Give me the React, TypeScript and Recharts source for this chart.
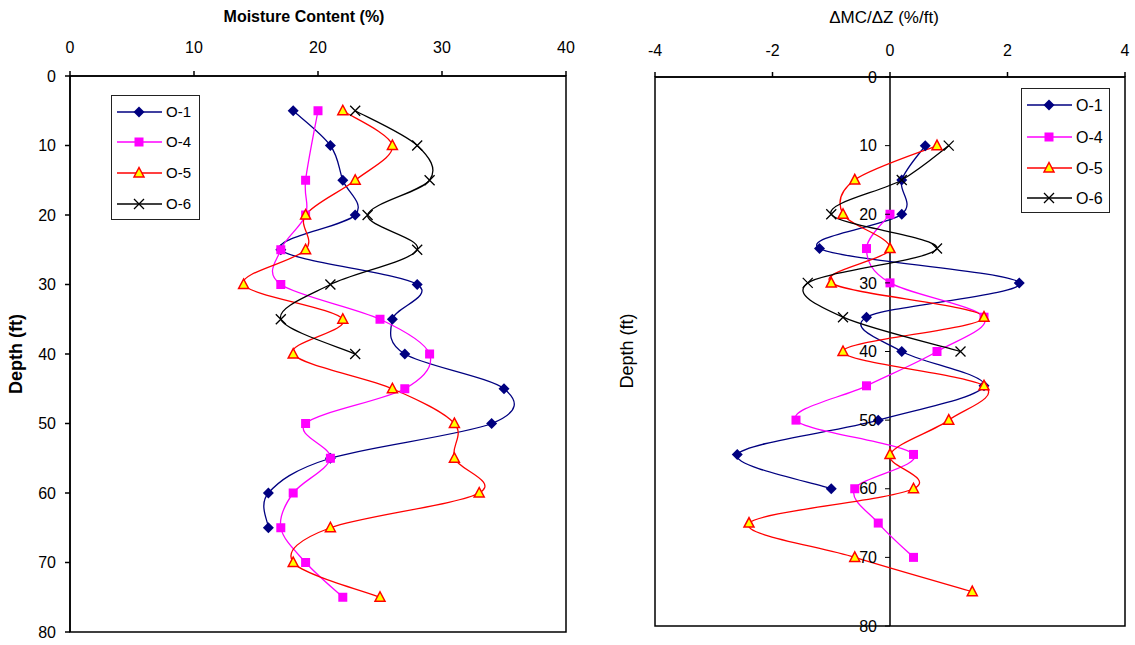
import React from "react"
import { Legend, Line, LineChart, ReferenceArea, ReferenceLine, XAxis, YAxis } from "recharts"

// moisture content (%) by depth (ft)
const DEPTHS = [5, 10, 15, 20, 25, 30, 35, 40, 45, 50, 55, 60, 65, 70, 75]
const MC_O1 = [18, 21, 22, 23, 17, 28, 26, 27, 35, 34, 21, 16, 16, null, null]
const MC_O4 = [20, null, 19, 19, 17, 17, 25, 29, 27, 19, 21, 18, 17, 19, 22]
const MC_O5 = [22, 26, 23, 19, 19, 14, 22, 18, 26, 31, 31, 33, 21, 18, 25]
const MC_O6 = [23, 28, 29, 24, 28, 21, 17, 23, null, null, null, null, null, null, null]

// gradient dMC/dZ (%/ft)
const GRAD_DEPTHS = [10, 15, 20, 25, 30, 35, 40, 45, 50, 55, 60, 65, 70, 75]
const GRAD_O1 = [0.6, 0.2, 0.2, -1.2, 2.2, -0.4, 0.2, 1.6, -0.2, -2.6, -1.0, null, null, null]
const GRAD_O4 = [null, null, 0, -0.4, 0, 1.6, 0.8, -0.4, -1.6, 0.4, -0.6, -0.2, 0.4, null]
const GRAD_O5 = [0.8, -0.6, -0.8, 0, -1.0, 1.6, -0.8, 1.6, 1.0, 0, 0.4, -2.4, -0.6, 1.4]
const GRAD_O6 = [1.0, 0.2, -1.0, 0.8, -1.4, -0.8, 1.2, null, null, null, null, null, null, null]

const MC_TICKS = [0, 10, 20, 30, 40]
const GRAD_TICKS = [-4, -2, 0, 2, 4]
const DEPTH_TICKS = [0, 10, 20, 30, 40, 50, 60, 70, 80]

type Marker = "diamond" | "square" | "triangle" | "cross"

const SERIES: { key: string; color: string; marker: Marker }[] = [
  { key: "O-1", color: "#000080", marker: "diamond" },
  { key: "O-4", color: "#FF00FF", marker: "square" },
  { key: "O-5", color: "#FF0000", marker: "triangle" },
  { key: "O-6", color: "#000000", marker: "cross" },
]

const mcData = DEPTHS.map((depth, i) => ({
  depth,
  "O-1": MC_O1[i],
  "O-4": MC_O4[i],
  "O-5": MC_O5[i],
  "O-6": MC_O6[i],
}))

const gradData = GRAD_DEPTHS.map((depth, i) => ({
  depth,
  "O-1": GRAD_O1[i],
  "O-4": GRAD_O4[i],
  "O-5": GRAD_O5[i],
  "O-6": GRAD_O6[i],
}))

// excel-like smoothed line (catmull-rom style bezier)
const smoothCurve = (context: any) => {
  let pts: number[][] = []
  return {
    areaStart() {},
    areaEnd() {},
    lineStart() {
      pts = []
    },
    point(x: number, y: number) {
      pts.push([+x, +y])
    },
    lineEnd() {
      const n = pts.length
      if (!n) return
      context.moveTo(pts[0][0], pts[0][1])
      for (let i = 0; i < n - 1; i++) {
        const p0 = pts[Math.max(i - 1, 0)]
        const p1 = pts[i]
        const p2 = pts[i + 1]
        const p3 = pts[Math.min(i + 2, n - 1)]
        context.bezierCurveTo(
          p1[0] + (p2[0] - p0[0]) / 6,
          p1[1] + (p2[1] - p0[1]) / 6,
          p2[0] - (p3[0] - p1[0]) / 6,
          p2[1] - (p3[1] - p1[1]) / 6,
          p2[0],
          p2[1]
        )
      }
    },
  }
}

function MarkerShape({ kind, cx, cy, color }: { kind: Marker; cx: number; cy: number; color: string }) {
  if (kind === "diamond") {
    return <path d={`M${cx},${cy - 5.5}L${cx + 5.5},${cy}L${cx},${cy + 5.5}L${cx - 5.5},${cy}Z`} fill={color} />
  }
  if (kind === "square") {
    return <rect x={cx - 4.5} y={cy - 4.5} width={9} height={9} fill={color} />
  }
  if (kind === "triangle") {
    return (
      <path
        d={`M${cx},${cy - 5.5}L${cx + 5},${cy + 4}L${cx - 5},${cy + 4}Z`}
        fill="#FFFF00"
        stroke="#FF0000"
        strokeWidth={1.5}
      />
    )
  }
  return (
    <path
      d={`M${cx - 5},${cy - 5}L${cx + 5},${cy + 5}M${cx - 5},${cy + 5}L${cx + 5},${cy - 5}`}
      stroke={color}
      strokeWidth={1.3}
    />
  )
}

const makeDot = (kind: Marker, color: string) => (p: any) => {
  const { cx, cy, index, value } = p
  if (cx == null || cy == null || value == null) return <g key={`d-${index}`} />
  return <MarkerShape key={`d-${index}`} kind={kind} cx={cx} cy={cy} color={color} />
}

function LegendBox({ fontSize, rows }: { fontSize: number; rows: number[] }) {
  return (
    <svg width={89} height={125} style={{ display: "block" }}>
      <rect x={0.5} y={0.5} width={88} height={124} fill="#fff" stroke="#222" />
      {SERIES.map((s, i) => (
        <g key={s.key}>
          <line x1={6} x2={51} y1={rows[i]} y2={rows[i]} stroke={s.color} strokeWidth={1.3} />
          <MarkerShape kind={s.marker} cx={28} cy={rows[i]} color={s.color} />
          <text x={55} y={rows[i]} dy="0.36em" fontSize={fontSize} fill="#000">
            {s.key}
          </text>
        </g>
      ))}
    </svg>
  )
}

const axisTick = { fontSize: 16, fill: "#000" }

// right chart plot geometry (local coords)
const R_LEFT = 55
const R_WIDTH = 470
const ZERO_X = R_LEFT + (R_WIDTH * (0 - GRAD_TICKS[0])) / (GRAD_TICKS[4] - GRAD_TICKS[0])

const GradDepthTick = (p: any) => (
  <g>
    <line x1={ZERO_X - 5} x2={ZERO_X} y1={p.y} y2={p.y} stroke="#000" />
    <text x={ZERO_X - 13} y={p.y} dy="0.355em" textAnchor="end" fontSize={16} fill="#000">
      {p.payload.value}
    </text>
  </g>
)

const labelBase: React.CSSProperties = {
  position: "absolute",
  whiteSpace: "nowrap",
  lineHeight: 1,
  color: "#000",
}

export default function App() {
  return (
    <div
      style={{
        position: "absolute",
        left: 0,
        top: 0,
        width: 1135,
        height: 645,
        background: "#fff",
        fontFamily: "'Liberation Sans', Arial, sans-serif",
      }}
    >
      <div style={{ ...labelBase, left: 304, top: 17, fontSize: 16, fontWeight: "bold", transform: "translate(-50%,-50%)" }}>
        Moisture Content (%)
      </div>
      <div
        style={{ ...labelBase, left: 16, top: 354, fontSize: 18, fontWeight: "bold", transform: "translate(-50%,-50%) rotate(-90deg)" }}
      >
        Depth (ft)
      </div>
      <div style={{ ...labelBase, left: 884, top: 17, fontSize: 17, transform: "translate(-50%,-50%)" }}>
        ΔMC/ΔZ (%/ft)
      </div>
      <div style={{ ...labelBase, left: 627, top: 351, fontSize: 18, transform: "translate(-50%,-50%) rotate(-90deg)" }}>
        Depth (ft)
      </div>

      <div style={{ position: "absolute", left: 0, top: 0 }}>
        <LineChart width={600} height={645} data={mcData} layout="vertical" margin={{ top: 0, right: 34, bottom: 13, left: 0 }}>
          <XAxis
            type="number"
            orientation="top"
            domain={[0, 40]}
            ticks={MC_TICKS}
            height={76}
            tick={axisTick}
            stroke="#000"
            strokeWidth={1.5}
            tickSize={5}
            tickMargin={18}
          />
          <YAxis
            type="number"
            dataKey="depth"
            domain={[0, 80]}
            ticks={DEPTH_TICKS}
            width={70}
            tick={axisTick}
            stroke="#000"
            strokeWidth={1.5}
            tickSize={5}
            tickMargin={9}
          />
          <ReferenceArea x1={0} x2={40} y1={0} y2={80} fill="none" stroke="#000" strokeWidth={1.5} />
          {SERIES.map((s) => (
            <Line
              key={s.key}
              dataKey={s.key}
              type={smoothCurve as any}
              stroke={s.color}
              strokeWidth={1.3}
              dot={makeDot(s.marker, s.color)}
              activeDot={false}
              isAnimationActive={false}
            />
          ))}
          <Legend
            layout="vertical"
            align="center"
            verticalAlign="middle"
            wrapperStyle={{ left: 111, top: 95, width: 89, height: 125 }}
            content={() => <LegendBox fontSize={15} rows={[17, 47, 78, 109]} />}
          />
        </LineChart>
      </div>

      <div style={{ position: "absolute", left: 600, top: 0 }}>
        <LineChart width={535} height={645} data={gradData} layout="vertical" margin={{ top: 0, right: 10, bottom: 19, left: 0 }}>
          <XAxis
            type="number"
            orientation="top"
            domain={[-4, 4]}
            ticks={GRAD_TICKS}
            height={77}
            tick={axisTick}
            stroke="#000"
            strokeWidth={1.5}
            tickSize={5}
            tickMargin={16}
          />
          <YAxis
            type="number"
            dataKey="depth"
            domain={[0, 80]}
            ticks={DEPTH_TICKS}
            width={R_LEFT}
            axisLine={false}
            tickLine={false}
            tick={GradDepthTick}
          />
          <ReferenceArea x1={-4} x2={4} y1={0} y2={80} fill="none" stroke="#000" strokeWidth={1.5} />
          <ReferenceLine x={0} stroke="#000" strokeWidth={1.5} />
          {SERIES.map((s) => (
            <Line
              key={s.key}
              dataKey={s.key}
              type={smoothCurve as any}
              stroke={s.color}
              strokeWidth={1.3}
              dot={makeDot(s.marker, s.color)}
              activeDot={false}
              isAnimationActive={false}
            />
          ))}
          <Legend
            layout="vertical"
            align="center"
            verticalAlign="middle"
            wrapperStyle={{ left: 421, top: 88, width: 89, height: 125 }}
            content={() => <LegendBox fontSize={16} rows={[17, 49, 80, 110]} />}
          />
        </LineChart>
      </div>
    </div>
  )
}
